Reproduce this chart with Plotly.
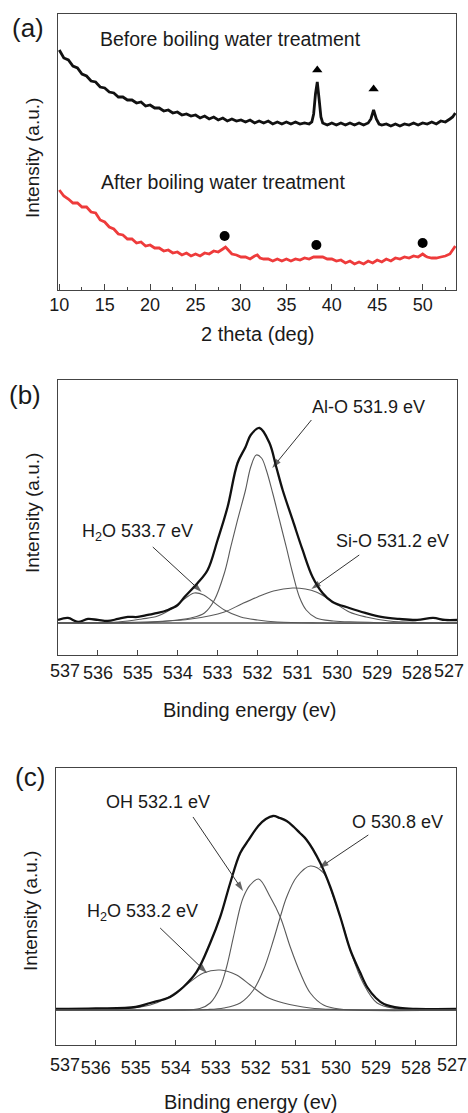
import plotly.graph_objects as go

# ---------------- (a) XRD data ----------------
before_theta = [10.0, 10.5, 11.0, 11.5, 12.0, 12.5, 13.0, 13.5, 14.0, 14.5,
                15.0, 15.5, 16.0, 16.5, 17.0, 17.5, 18.0, 18.5, 19.0, 19.5,
                20.0, 20.5, 21.0, 21.5, 22.0, 22.5, 23.0, 23.5, 24.0, 24.5,
                25.0, 25.5, 26.0, 26.5, 27.0, 27.5, 28.0, 28.5, 29.0, 29.5,
                30.0, 30.5, 31.0, 31.5, 32.0, 32.5, 33.0, 33.5, 34.0, 34.5,
                35.0, 35.5, 36.0, 36.5, 37.0, 37.5,
                37.8, 38.0, 38.2, 38.4, 38.6, 38.8, 39.0,
                39.5, 40.0, 40.5, 41.0, 41.5, 42.0, 42.5, 43.0, 43.5, 44.0,
                44.3, 44.6, 44.9, 45.2,
                45.5, 46.0, 46.5, 47.0, 47.5, 48.0, 48.5, 49.0, 49.5, 50.0,
                50.5, 51.0, 51.5, 52.0, 52.5, 53.0,
                53.3, 53.6]
before_int = [240, 232, 230, 224, 222, 216, 214, 209, 208, 203,
              202, 198, 197, 193, 193, 190, 190, 187, 188, 184,
              185, 182, 182, 179, 180, 177, 178, 175, 176, 174,
              175, 172, 174, 171, 173, 170, 172, 169, 171, 169,
              170, 168, 170, 167, 169, 167, 169, 166, 168, 166,
              168, 166, 168, 166, 167, 166,
              168, 176, 196, 208, 191, 173, 167,
              165, 167, 165, 167, 165, 167, 165, 167, 165, 167,
              171, 180, 171, 166,
              165, 166, 164, 166, 164, 166, 165, 167, 165, 167,
              166, 168, 166, 169, 168, 171,
              173, 177]

after_theta = [10.0, 10.5, 11.0, 11.5, 12.0, 12.5, 13.0, 13.5, 14.0, 14.5,
               15.0, 15.5, 16.0, 16.5, 17.0, 17.5, 18.0, 18.5, 19.0, 19.5,
               20.0, 20.5, 21.0, 21.5, 22.0, 22.5, 23.0, 23.5, 24.0, 24.5,
               25.0, 25.5, 26.0, 26.5, 27.0, 27.5, 28.0,
               28.3, 28.6,
               29.0, 29.5, 30.0, 30.5, 31.0, 31.5,
               31.8, 32.1,
               32.5, 33.0, 33.5, 34.0, 34.5, 35.0, 35.5, 36.0, 36.5, 37.0,
               37.5, 38.0, 38.5, 39.0, 39.5, 40.0, 40.5, 41.0, 41.5, 42.0,
               42.5, 43.0, 43.5, 44.0, 44.5, 45.0, 45.5, 46.0, 46.5, 47.0,
               47.5, 48.0, 48.5, 49.0, 49.5, 50.0,
               50.3,
               50.5, 51.0, 51.5, 52.0, 52.5, 53.0,
               53.3, 53.6]
after_int = [100, 94, 91, 87, 87, 83, 83, 78, 77, 70,
             68, 63, 61, 56, 55, 51, 51, 47, 48, 44,
             45, 42, 42, 39, 40, 37, 38, 35, 37, 34,
             36, 34, 37, 36, 39, 38, 41,
             43, 40,
             36, 35, 33, 33, 31, 34,
             35, 32,
             31, 31, 29, 31, 29, 31, 29, 31, 30, 32,
             31, 33, 33, 33, 31, 31, 29, 30, 27, 29,
             26, 28, 26, 29, 27, 30, 28, 31, 29, 32,
             31, 33, 32, 34, 33, 36,
             34,
             33, 32, 32, 33, 34, 36,
             40, 44]

tri_theta = [38.4, 44.6]
tri_int = [220, 201]
dot_theta = [28.2, 38.3, 50.0]
dot_int = [54, 45, 47]

# ---------------- (b) XPS O1s before ----------------
env_b_E = [537.0, 536.75, 536.5, 536.25, 536.0, 535.75, 535.5, 535.25, 535.0, 534.75,
           534.5, 534.25, 534.0, 533.83, 533.5, 533.25, 533.0, 532.75, 532.5, 532.3,
           532.17, 531.95, 531.7, 531.53, 531.37, 531.12, 530.87, 530.62, 530.37, 530.12,
           529.7, 529.3, 528.9, 528.45, 528.0, 527.6, 527.3, 527.0]
env_b_I = [3, 5, 1, 4, 3, 2, 4, 6, 6, 8,
           10, 13, 18, 26, 40, 53, 83, 116, 160, 176,
           188, 195, 180, 156, 133, 103, 73, 46, 30, 21,
           15, 10, 6, 4, 3, 5, 3, 3]

alo_E = [537.0, 535.0, 534.5, 534.0, 533.67, 533.33, 533.08, 532.83, 532.67, 532.5, 532.3,
         532.17, 532.03, 531.9, 531.78, 531.62, 531.45, 531.28, 531.12, 530.95, 530.78,
         530.53, 530.1, 529.5, 528.5, 527.0]
alo_I = [0, 0, 1, 3, 5, 10, 23, 50, 76, 103, 133,
         156, 168, 165, 153, 130, 103, 76, 50, 26, 13,
         5, 2, 1, 0, 0]

sio_E = [537.0, 535.5, 534.5, 533.67, 532.83, 532.4, 532.0, 531.6, 531.12, 530.8,
         530.53, 530.1, 529.7, 529.28, 528.7, 528.0, 527.0]
sio_I = [0, 0.5, 1.5, 4, 11, 19, 26, 32, 35, 34,
         31, 21, 11, 6, 2, 0.5, 0]

h2ob_E = [537.0, 535.5, 534.9, 534.5, 534.08, 533.8, 533.58, 533.35, 533.17, 532.83,
          532.42, 532.0, 531.5, 530.5, 527.0]
h2ob_I = [0, 1, 4, 7, 16, 25, 30, 28, 23, 13,
          6, 3, 1, 0, 0]

# ---------------- (c) XPS O1s after ----------------
env_c_E = [537.0, 536.0, 535.0, 534.64, 534.14, 533.81, 533.48, 533.14, 532.89, 532.64,
           532.39, 532.18, 531.94, 531.75, 531.57, 531.4, 531.23, 531.05, 530.9, 530.73,
           530.39, 530.14, 529.89, 529.64, 529.4, 529.22, 529.0, 528.8, 528.4, 528.0,
           527.0]
env_c_I = [1, 1.5, 3, 7, 13, 23, 38, 67, 93, 127,
           157, 170, 184, 191, 194, 192, 189, 183, 177, 170,
           147, 123, 93, 60, 38, 23, 12, 6, 2, 1,
           1]

oh_E = [537.0, 534.0, 533.4, 533.14, 532.89, 532.73, 532.56, 532.39, 532.31, 532.14,
        531.93, 531.64, 531.39, 531.14, 530.89, 530.64, 530.31, 529.9, 527.0]
oh_I = [0, 0, 1.5, 7, 23, 43, 73, 103, 113, 125,
        131, 113, 93, 63, 37, 17, 5, 1, 0]

o_E = [537.0, 533.2, 532.8, 532.39, 532.06, 531.81, 531.56, 531.39, 531.23, 530.98,
       530.64, 530.31, 530.06, 529.81, 529.64, 529.32, 528.97, 528.5, 527.0]
o_I = [0, 0.5, 2, 7, 20, 40, 70, 93, 113, 133,
       144, 137, 113, 83, 60, 27, 7, 1.5, 0]

h2oc_E = [537.0, 535.2, 534.64, 534.22, 533.81, 533.31, 532.89, 532.48, 532.14, 531.73,
          531.31, 530.64, 530.0, 527.0]
h2oc_I = [0, 1.5, 5, 12, 23, 37, 40, 35, 25, 13,
          7, 2, 0.5, 0]

xps_inner_ticks = [536, 535, 534, 533, 532, 531, 530, 529, 528]
xps_end_labels = ["537", "527"]

FONT = "Liberation Sans, Arial, sans-serif"
TXT = "#1a1a1a"
COMP = "#5a5a5a"

fig = go.Figure()

# (a)
fig.add_trace(go.Scatter(x=before_theta, y=before_int, mode="lines",
                         line=dict(color="#111111", width=2.8), xaxis="x", yaxis="y"))
fig.add_trace(go.Scatter(x=after_theta, y=after_int, mode="lines",
                         line=dict(color="#ee3b3b", width=2.8), xaxis="x", yaxis="y"))
fig.add_trace(go.Scatter(x=tri_theta, y=tri_int, mode="markers",
                         marker=dict(symbol="triangle-up", size=9, color="#000"),
                         xaxis="x", yaxis="y"))
fig.add_trace(go.Scatter(x=dot_theta, y=dot_int, mode="markers",
                         marker=dict(symbol="circle", size=10, color="#000"),
                         xaxis="x", yaxis="y"))

# (b)
for E, I in [(alo_E, alo_I), (sio_E, sio_I), (h2ob_E, h2ob_I)]:
    fig.add_trace(go.Scatter(x=E, y=I, mode="lines", line=dict(color=COMP, width=1.1, shape="spline"),
                             xaxis="x2", yaxis="y2"))
fig.add_trace(go.Scatter(x=env_b_E, y=env_b_I, mode="lines",
                         line=dict(color="#111111", width=2.3, shape="spline"),
                         xaxis="x2", yaxis="y2"))

# (c)
for E, I in [(oh_E, oh_I), (o_E, o_I), (h2oc_E, h2oc_I)]:
    fig.add_trace(go.Scatter(x=E, y=I, mode="lines", line=dict(color=COMP, width=1.1, shape="spline"),
                             xaxis="x3", yaxis="y3"))
fig.add_trace(go.Scatter(x=env_c_E, y=env_c_I, mode="lines",
                         line=dict(color="#111111", width=2.3, shape="spline"),
                         xaxis="x3", yaxis="y3"))


def arrow(tip_x, tip_y, tail_x, tail_y, xa, ya):
    """Arrow drawn as a line with an arrow-head marker at its tip."""
    fig.add_trace(go.Scatter(
        x=[tail_x, tip_x], y=[tail_y, tip_y], mode="lines+markers",
        line=dict(color="#333333", width=1.0),
        marker=dict(symbol=["circle", "arrow"], size=[0, 10], angleref="previous",
                    color="#222222", line=dict(width=0)),
        xaxis=xa, yaxis=ya, hoverinfo="skip"))


# (b) arrows
arrow(531.63, 155, 530.65, 203, "x2", "y2")
arrow(533.4, 31, 534.625, 76, "x2", "y2")
arrow(530.65, 34, 529.45, 68, "x2", "y2")
# (c) arrows
arrow(532.32, 119, 533.57, 193, "x3", "y3")
arrow(530.42, 142, 529.19, 175, "x3", "y3")
arrow(533.22, 37, 534.39, 82, "x3", "y3")

axcommon = dict(showline=True, linecolor="#444444", linewidth=1.4, mirror=True,
                showgrid=False, zeroline=False, ticks="inside", tickcolor="#444444",
                tickfont=dict(family=FONT, size=18, color=TXT))
ycommon = dict(showline=True, linecolor="#444444", linewidth=1.4, mirror=True,
               showgrid=False, zeroline=False, ticks="", showticklabels=False)

fig.update_layout(
    width=468, height=1113,
    margin=dict(l=55, r=11, t=14, b=68),
    paper_bgcolor="white", plot_bgcolor="white",
    showlegend=False,
    font=dict(family=FONT, color=TXT),
    xaxis=dict(axcommon, domain=[0.0075, 0.9975], range=[9.86, 53.67], tick0=10, dtick=5,
               ticklen=6, ticklabelstandoff=-2, anchor="y",
               minor=dict(dtick=2.5, ticks="inside", ticklen=3, tickcolor="#444444")),
    yaxis=dict(ycommon, domain=[0.7323, 1.0], range=[0, 276], anchor="x"),
    xaxis2=dict(axcommon, domain=[0.0075, 1.0], range=[537, 527], tickvals=xps_inner_ticks,
                ticklen=5, ticklabelstandoff=1, anchor="y2"),
    yaxis2=dict(ycommon, domain=[0.3783, 0.6450], range=[-32, 243], anchor="x2"),
    xaxis3=dict(axcommon, domain=[0.0017, 0.9975], range=[537, 527], tickvals=xps_inner_ticks,
                ticklen=5, ticklabelstandoff=6, anchor="y3"),
    yaxis3=dict(ycommon, domain=[0.0, 0.2687], range=[-35, 242], anchor="x3"),
)

# baselines in (b) and (c)
fig.add_shape(type="line", xref="x2 domain", yref="y2", x0=0, x1=1, y0=0, y1=0,
              line=dict(color="#555555", width=1.3))
fig.add_shape(type="line", xref="x3 domain", yref="y3", x0=0, x1=1, y0=0, y1=0,
              line=dict(color="#555555", width=1.3))

ann = []
def label(text, x, y, xref, yref, size, angle=0):
    ann.append(dict(text=text, x=x, y=y, xref=xref, yref=yref, showarrow=False,
                    xanchor="center", yanchor="middle", textangle=angle,
                    font=dict(family=FONT, size=size, color=TXT)))

# end tick labels of the XPS axes (pulled inward as in the original)
label(xps_end_labels[0], 0.0249, 0.3625, "paper", "paper", 18)
label(xps_end_labels[1], 0.9801, 0.3625, "paper", "paper", 18)
label(xps_end_labels[0], 0.0249, -0.0194, "paper", "paper", 18)
label(xps_end_labels[1], 0.9876, -0.0194, "paper", "paper", 18)

# panel letters
label("(a)", -0.0672, 0.9864, "paper", "paper", 26)
label("(b)", -0.0746, 0.6305, "paper", "paper", 26)
label("(c)", -0.0622, 0.2599, "paper", "paper", 26)
# axis titles
label("2 theta (deg)", 0.5025, 0.6896, "paper", "paper", 20)
label("Binding energy (ev)", 0.4826, 0.3249, "paper", "paper", 20)
label("Binding energy (ev)", 0.4851, -0.0553, "paper", "paper", 20)
label("Intensity (a.u.)", -0.0572, 0.8603, "paper", "paper", 19, -90)
label("Intensity (a.u.)", -0.0572, 0.5160, "paper", "paper", 19, -90)
label("Intensity (a.u.)", -0.0597, 0.1300, "paper", "paper", 19, -90)
# (a) texts
label("Before boiling water treatment", 28.9, 251, "x", "y", 19.5)
label("After boiling water treatment", 28.0, 108, "x", "y", 19.5)
# (b) labels
label("Al-O 531.9 eV", 529.225, 216, "x2", "y2", 18)
label("H<sub>2</sub>O 533.7 eV", 535.0, 90, "x2", "y2", 18)
label("Si-O 531.2 eV", 528.625, 82, "x2", "y2", 18)
# (c) labels
label("OH 532.1 eV", 534.44, 208, "x3", "y3", 18)
label("O 530.8 eV", 528.47, 188, "x3", "y3", 18)
label("H<sub>2</sub>O 533.2 eV", 534.82, 97, "x3", "y3", 18)

fig.update_layout(annotations=ann)
fig.write_html(
    "out.html",
    config={"displayModeBar": False},
    post_script="document.documentElement.style.margin='0';document.body.style.margin='0';"
                "document.documentElement.style.overflow='hidden';document.body.style.overflow='hidden';",
)
